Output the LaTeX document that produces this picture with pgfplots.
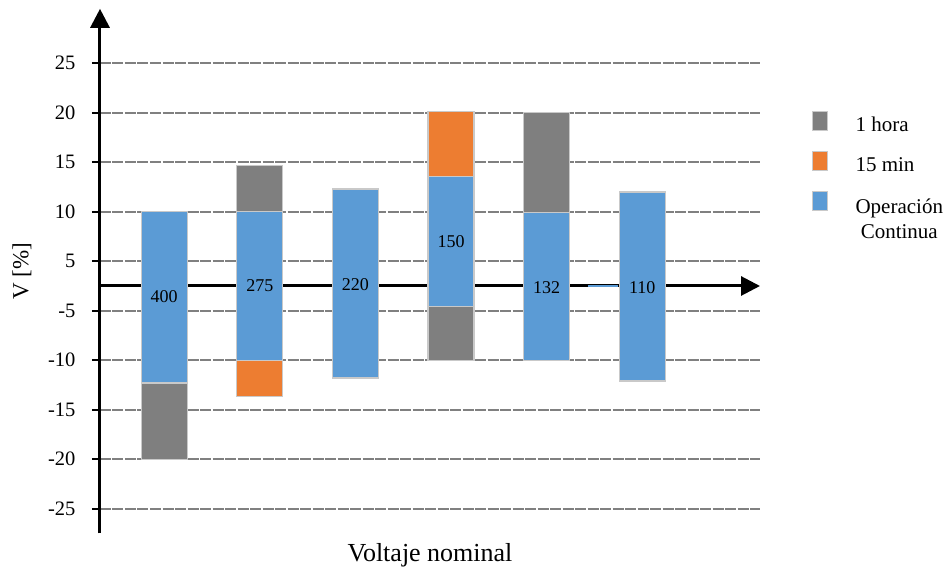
\documentclass[border=0pt]{standalone}
\usepackage{pgfplots}
\pgfplotsset{compat=1.18}
\usepackage{fontspec}
\setmainfont{Liberation Serif}
\usetikzlibrary{arrows.meta}

\definecolor{cblue}{HTML}{5B9BD5}
\definecolor{corange}{HTML}{ED7D31}
\definecolor{cgray}{HTML}{7F7F7F}
\definecolor{barEdge}{HTML}{C9C9C9}
\definecolor{gridGray}{HTML}{808080}

% one floating bar segment: x centre, lower value, upper value
\newcommand{\seg}[4]{%
  \addplot[fill=#4, draw=barEdge, line width=1.2pt]
    coordinates {(#1-0.24,#2) (#1+0.24,#2) (#1+0.24,#3) (#1-0.24,#3)} -- cycle;}

\begin{document}
\begin{tikzpicture}
\useasboundingbox (0,0) rectangle (948pt,569pt);
\begin{axis}[
  at={(100pt,35.5pt)}, anchor=south west,
  scale only axis, width=660pt, height=524.7pt,
  xmin=0.3285, xmax=7.232,
  ymin=-27.5, ymax=30.5,
  % the value axis has no zero line: the band between -5 and 5 is halved
  y coord trafo/.code={\pgfmathparse{(#1>=5)*(#1-2.5)+(#1<=-5)*(#1+2.5)+and(#1>-5,#1<5)*(#1/2)}},
  y coord inv trafo/.code={\pgfmathparse{(#1>=2.5)*(#1+2.5)+(#1<=-2.5)*(#1-2.5)+and(#1>-2.5,#1<2.5)*(#1*2)}},
  axis x line=none,
  axis y line=left,
  y axis line style={line width=3pt, -{Triangle[width=19pt,length=19pt]}},
  xtick=\empty,
  ytick={-25,-20,-15,-10,-5,5,10,15,20,25},
  yticklabels={-25,-20,-15,-10,-5,5,10,15,20,25},
  tick align=outside, major tick length=8pt,
  ytick style={line width=2.2pt, black},
  yticklabel style={font=\fontsize{20.5}{24}\selectfont, xshift=-13pt},
  ymajorgrids,
  major grid style={gridGray, line width=1.8pt, dash pattern=on 11pt off 1.5pt},
  legend image code/.code={%
    \draw[#1, draw=barEdge, line width=1pt] (0pt,-5pt) rectangle (15pt,14pt);
    \path[draw=none, fill=none] (15pt,0pt) -- (41pt,0pt);},
  legend style={draw=none, fill=none, at={(rel axis cs:1.074,0.81)}, anchor=north west,
    font=\fontsize{21}{25}\selectfont, row sep=16pt},
  legend cell align=left,
  clip=false,
]
\addlegendimage{fill=cgray}
\addlegendentry{1 hora}
\addlegendimage{fill=corange}
\addlegendentry{15 min}
\addlegendimage{fill=cblue}
\addlegendentry{\begin{tabular}[t]{@{}c@{}}Operación\\Continua\end{tabular}}

% horizontal axis through zero
\draw[line width=3pt, -{Triangle[width=19pt,length=19pt]}] (axis cs:0.3285,0) -- (axis cs:7.232,0);

% 400 kV
\seg{1}{-12.3}{10}{cblue}
\seg{1}{-20}{-12.3}{cgray}
% 275 kV
\seg{2}{-10}{10}{cblue}
\seg{2}{10}{14.7}{cgray}
\seg{2}{-13.7}{-10}{corange}
% 220 kV
\seg{3}{-11.8}{12.3}{cblue}
% 150 kV
\seg{4}{-4.2}{13.6}{cblue}
\seg{4}{13.6}{20.1}{corange}
\seg{4}{-10}{-4.2}{cgray}
% 132 kV
\seg{5}{-10}{9.9}{cblue}
\seg{5}{9.9}{20}{cgray}
% 110 kV
\seg{6}{-12.1}{12}{cblue}
\addplot[cblue, line width=1.5pt] coordinates {(5.433,0) (5.747,0)};

\begin{scope}[font=\fontsize{18}{21}\selectfont]
\node at (axis cs:1,-2.16) {400};
\node at (axis cs:2,0) {275};
\node at (axis cs:3,0.34) {220};
\node at (axis cs:4,6.97) {150};
\node at (axis cs:5,-0.34) {132};
\node at (axis cs:6,-0.34) {110};
\end{scope}

\node[anchor=base, font=\fontsize{26}{31}\selectfont] at (rel axis cs:0.5,0) [yshift=-28.4pt] {Voltaje nominal};
\node[xshift=-78pt, rotate=90, font=\fontsize{23}{27}\selectfont] at (rel axis cs:0,0.5) {V [\%]};
\end{axis}
\end{tikzpicture}
\end{document}
